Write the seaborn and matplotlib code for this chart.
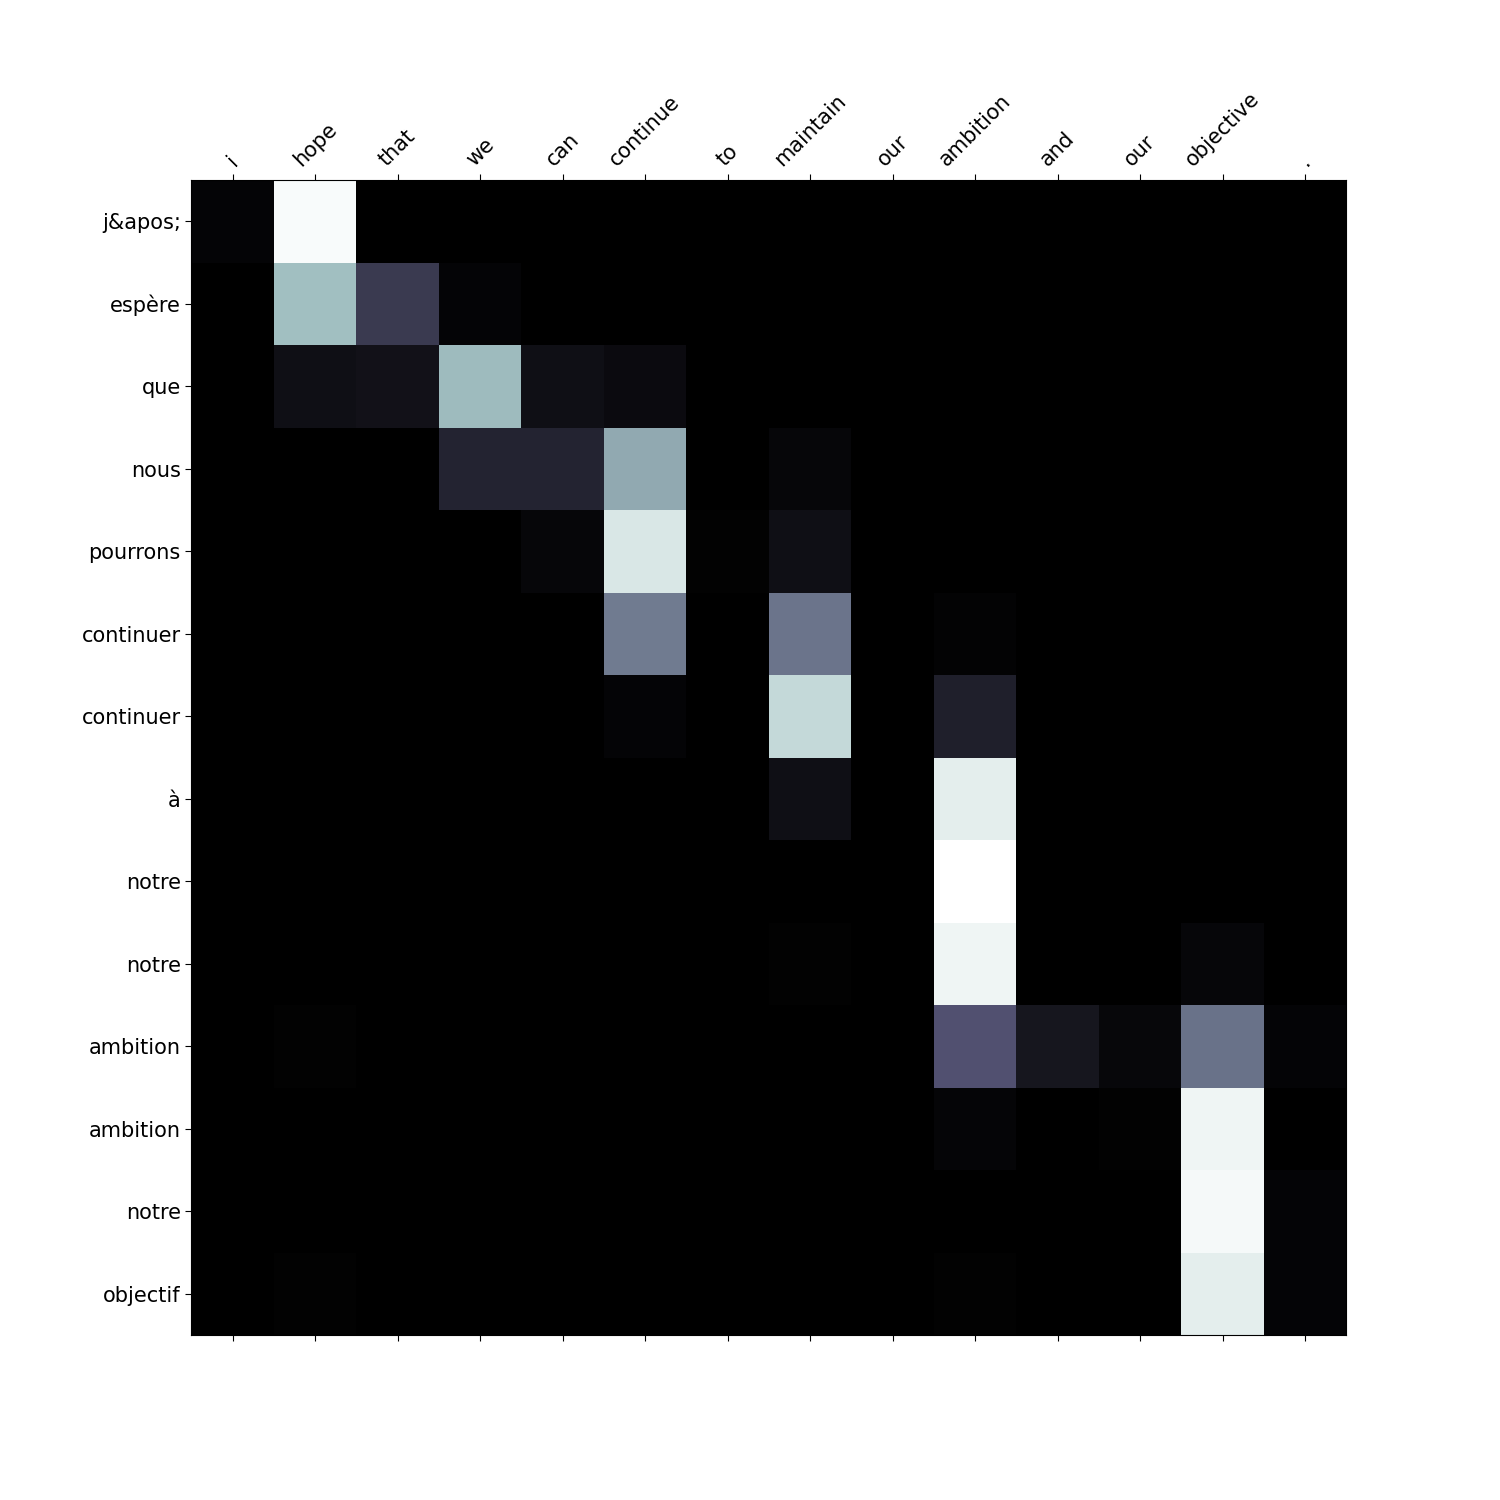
import numpy as np
import pandas as pd
import seaborn as sns
from matplotlib import pyplot as plt

# source (columns) and output (rows) tokens
input_words = ["i", "hope", "that", "we", "can", "continue", "to", "maintain",
               "our", "ambition", "and", "our", "objective", "."]
output_words = ["j&apos;", "espère", "que", "nous", "pourrons", "continuer",
                "continuer", "à", "notre", "notre", "ambition", "ambition",
                "notre", "objectif"]

# attention weights, one list per output word
att_japos = [0.02, 0.98, 0, 0, 0, 0, 0, 0, 0, 0, 0, 0, 0, 0]
att_espere = [0, 0.72, 0.26, 0.02, 0, 0, 0, 0, 0, 0, 0, 0, 0, 0]
att_que = [0, 0.07, 0.08, 0.71, 0.07, 0.05, 0, 0, 0, 0, 0, 0, 0, 0]
att_nous = [0, 0, 0, 0.16, 0.16, 0.65, 0, 0.03, 0, 0, 0, 0, 0, 0]
att_pourrons = [0, 0, 0, 0, 0.03, 0.89, 0.01, 0.07, 0, 0, 0, 0, 0, 0]
att_continuer1 = [0, 0, 0, 0, 0, 0.5, 0, 0.48, 0, 0.015, 0, 0, 0, 0]
att_continuer2 = [0, 0, 0, 0, 0, 0.02, 0, 0.83, 0, 0.14, 0, 0, 0, 0]
att_a = [0, 0, 0, 0, 0, 0, 0, 0.07, 0, 0.92, 0, 0, 0, 0]
att_notre1 = [0, 0, 0, 0, 0, 0, 0, 0, 0, 1.0, 0, 0, 0, 0]
att_notre2 = [0, 0, 0, 0, 0, 0, 0, 0.01, 0, 0.95, 0, 0, 0.03, 0]
att_ambition1 = [0, 0.01, 0, 0, 0, 0, 0, 0, 0, 0.36, 0.1, 0.035, 0.47, 0.02]
att_ambition2 = [0, 0, 0, 0, 0, 0, 0, 0, 0, 0.025, 0, 0.01, 0.95, 0]
att_notre3 = [0, 0, 0, 0, 0, 0, 0, 0, 0, 0, 0, 0, 0.97, 0.02]
att_objectif = [0, 0.01, 0, 0, 0, 0, 0, 0, 0, 0.01, 0, 0, 0.92, 0.02]

attention = pd.DataFrame(
    [att_japos, att_espere, att_que, att_nous, att_pourrons, att_continuer1,
     att_continuer2, att_a, att_notre1, att_notre2, att_ambition1,
     att_ambition2, att_notre3, att_objectif],
    index=output_words, columns=input_words)

fig, ax = plt.subplots(figsize=(15, 15), dpi=100)
sns.heatmap(attention, cmap="bone", cbar=False, square=True, ax=ax,
            xticklabels=True, yticklabels=True)

ax.xaxis.tick_top()
ax.xaxis.set_ticks_position("both")
ax.tick_params(axis="x", labelbottom=False, labeltop=True, length=4)
ax.tick_params(axis="y", length=4)
ax.set_xticklabels(input_words, rotation=45, fontsize=15)
ax.set_yticklabels(output_words, rotation=0, fontsize=15, va="center_baseline")
ax.set_xlabel("")
ax.set_ylabel("")
for spine in ax.spines.values():
    spine.set_visible(True)

fig.savefig("out.png", dpi=100)
